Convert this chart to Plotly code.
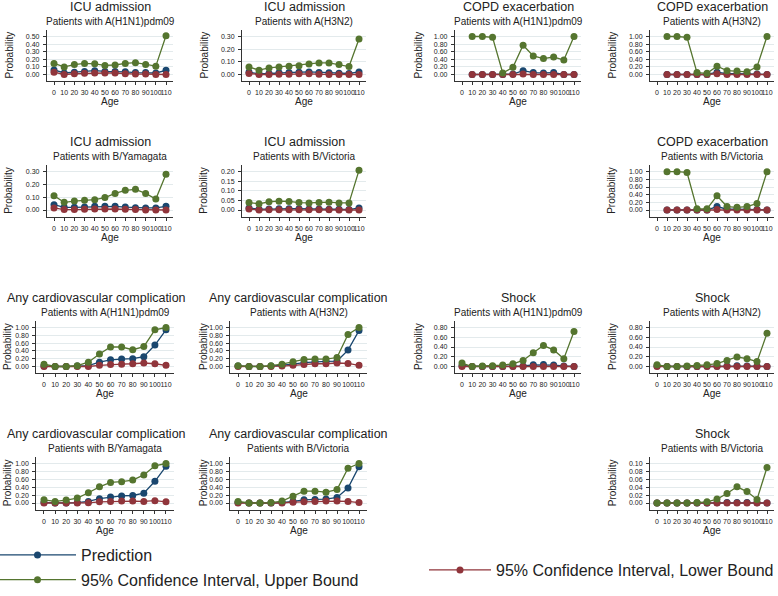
import plotly.graph_objects as go

W, H = 778, 596

ages = [0, 10, 20, 30, 40, 50, 60, 70, 80, 90, 100, 110]
age_labels = [str(a) for a in ages]

# ---- data ----
icu_h1n1_pred = [0.06, 0.02, 0.03, 0.04, 0.05, 0.04, 0.04, 0.035, 0.025, 0.025, 0.02, 0.055]
icu_h1n1_upper = [0.146, 0.10, 0.13, 0.146, 0.14, 0.12, 0.125, 0.146, 0.155, 0.13, 0.11, 0.51]
icu_h1n1_lower = [0.03, 0.0, 0.01, 0.015, 0.02, 0.02, 0.02, 0.01, 0.005, 0.005, 0.0, 0.0]

icu_h3n2_pred = [0.018, 0.005, 0.008, 0.013, 0.016, 0.018, 0.02, 0.016, 0.013, 0.01, 0.008, 0.02]
icu_h3n2_upper = [0.06, 0.034, 0.052, 0.06, 0.065, 0.07, 0.083, 0.091, 0.091, 0.078, 0.063, 0.28]
icu_h3n2_lower = [0.008, 0.0, 0.0, 0.002, 0.002, 0.005, 0.005, 0.002, 0.0, 0.0, 0.0, 0.0]

copd_h1n1_pred = [None, 0.0, 0.0, 0.0, 0.0, 0.01, 0.10, 0.05, 0.04, 0.05, 0.0, 0.0]
copd_h1n1_upper = [None, 1.0, 1.0, 0.98, 0.04, 0.19, 0.77, 0.49, 0.42, 0.46, 0.38, 1.0]
copd_h1n1_lower = [None, 0.0, 0.0, 0.0, 0.0, 0.0, 0.01, 0.0, 0.0, 0.0, 0.0, 0.0]

copd_h3n2_pred = [None, 0.0, 0.0, 0.0, 0.0, 0.0, 0.06, 0.02, 0.02, 0.02, 0.01, 0.0]
copd_h3n2_upper = [None, 1.0, 1.0, 0.98, 0.05, 0.03, 0.22, 0.10, 0.09, 0.07, 0.20, 1.0]
copd_h3n2_lower = [None, 0.0, 0.0, 0.0, 0.0, 0.0, 0.02, 0.0, 0.0, 0.0, 0.0, 0.0]

icu_byam_pred = [0.042, 0.021, 0.021, 0.023, 0.029, 0.029, 0.029, 0.023, 0.018, 0.016, 0.016, 0.029]
icu_byam_upper = [0.112, 0.06, 0.07, 0.076, 0.081, 0.097, 0.13, 0.154, 0.162, 0.13, 0.086, 0.28]
icu_byam_lower = [0.016, 0.003, 0.003, 0.005, 0.008, 0.008, 0.008, 0.005, 0.003, 0.0, 0.0, 0.0]

icu_bvic_pred = [0.011, 0.004, 0.005, 0.007, 0.007, 0.007, 0.005, 0.005, 0.004, 0.004, 0.002, 0.011]
icu_bvic_upper = [0.039, 0.032, 0.043, 0.046, 0.045, 0.039, 0.037, 0.039, 0.041, 0.037, 0.037, 0.207]
icu_bvic_lower = [0.005, 0.0, 0.001, 0.001, 0.001, 0.001, 0.001, 0.001, 0.001, 0.0, 0.0, 0.0]

copd_bvic_pred = [None, 0.0, 0.0, 0.0, 0.0, 0.0, 0.09, 0.02, 0.02, 0.02, 0.01, 0.0]
copd_bvic_upper = [None, 1.0, 1.0, 0.98, 0.03, 0.03, 0.37, 0.09, 0.07, 0.09, 0.17, 1.0]
copd_bvic_lower = [None, 0.0, 0.0, 0.0, 0.0, 0.0, 0.01, 0.0, 0.0, 0.0, 0.0, 0.0]

cardio_h1n1_pred = [0.01, 0.0, 0.0, 0.01, 0.02, 0.11, 0.17, 0.19, 0.20, 0.25, 0.55, 0.94]
cardio_h1n1_upper = [0.06, 0.0, 0.0, 0.02, 0.11, 0.32, 0.50, 0.50, 0.43, 0.51, 0.94, 1.0]
cardio_h1n1_lower = [0.0, 0.0, 0.0, 0.0, 0.0, 0.03, 0.05, 0.06, 0.07, 0.09, 0.07, 0.03]

cardio_h3n2_pred = [0.01, 0.0, 0.0, 0.01, 0.03, 0.06, 0.10, 0.12, 0.13, 0.14, 0.42, 0.92]
cardio_h3n2_upper = [0.02, 0.0, 0.0, 0.02, 0.06, 0.12, 0.18, 0.19, 0.19, 0.23, 0.82, 1.0]
cardio_h3n2_lower = [0.0, 0.0, 0.0, 0.0, 0.01, 0.03, 0.05, 0.07, 0.07, 0.09, 0.08, 0.03]

shock_h1n1_pred = [0.015, 0.0, 0.0, 0.0, 0.002, 0.005, 0.01, 0.035, 0.04, 0.03, 0.01, 0.0]
shock_h1n1_upper = [0.07, 0.0, 0.01, 0.015, 0.03, 0.055, 0.125, 0.28, 0.43, 0.34, 0.16, 0.72]
shock_h1n1_lower = [0.0, 0.0, 0.0, 0.0, 0.0, 0.0, 0.0, 0.0, 0.0, 0.0, 0.0, 0.0]

shock_h3n2_pred = [0.01, 0.0, 0.0, 0.0, 0.002, 0.005, 0.005, 0.01, 0.015, 0.01, 0.005, 0.0]
shock_h3n2_upper = [0.035, 0.0, 0.0, 0.01, 0.02, 0.035, 0.06, 0.125, 0.195, 0.16, 0.10, 0.68]
shock_h3n2_lower = [0.0, 0.0, 0.0, 0.0, 0.0, 0.0, 0.0, 0.0, 0.0, 0.0, 0.0, 0.0]

cardio_byam_pred = [0.01, 0.0, 0.0, 0.01, 0.04, 0.11, 0.15, 0.18, 0.19, 0.25, 0.55, 0.93]
cardio_byam_upper = [0.08, 0.04, 0.075, 0.125, 0.26, 0.41, 0.52, 0.54, 0.58, 0.71, 0.94, 1.0]
cardio_byam_lower = [0.0, 0.0, 0.0, 0.0, 0.005, 0.03, 0.04, 0.05, 0.05, 0.04, 0.06, 0.03]

cardio_bvic_pred = [0.01, 0.0, 0.0, 0.0, 0.01, 0.04, 0.08, 0.09, 0.10, 0.14, 0.38, 0.92]
cardio_bvic_upper = [0.04, 0.0, 0.0, 0.01, 0.05, 0.17, 0.30, 0.30, 0.275, 0.34, 0.88, 1.0]
cardio_bvic_lower = [0.0, 0.0, 0.0, 0.0, 0.0, 0.02, 0.03, 0.04, 0.05, 0.05, 0.04, 0.01]

shock_bvic_pred = [0.0, 0.0, 0.0, 0.0, 0.0, 0.0, 0.0005, 0.001, 0.001, 0.001, 0.0005, 0.0]
shock_bvic_upper = [0.0, 0.0, 0.0, 0.0, 0.001, 0.003, 0.01, 0.024, 0.041, 0.029, 0.009, 0.09]
shock_bvic_lower = [0.0, 0.0, 0.0, 0.0, 0.0, 0.0, 0.0, 0.0, 0.0, 0.0, 0.0, 0.0]

# y tick sets (max, step)
ticks_05 = (0.5, 0.1)
ticks_03 = (0.3, 0.1)
ticks_02 = (0.2, 0.05)
ticks_10 = (1.0, 0.2)
ticks_08 = (0.8, 0.2)
ticks_01 = (0.1, 0.02)

series_names = ["Prediction", "95% Confidence Interval, Lower Bound", "95% Confidence Interval, Upper Bound"]
series_colors = ["#1a476f", "#90353b", "#55752f"]

# panels: title, subtitle, (pred, lower, upper), ticks, row, col
panels = [
    ("ICU admission", "Patients with A(H1N1)pdm09", (icu_h1n1_pred, icu_h1n1_lower, icu_h1n1_upper), ticks_05, 1, 1),
    ("ICU admission", "Patients with A(H3N2)", (icu_h3n2_pred, icu_h3n2_lower, icu_h3n2_upper), ticks_03, 1, 2),
    ("COPD exacerbation", "Patients with A(H1N1)pdm09", (copd_h1n1_pred, copd_h1n1_lower, copd_h1n1_upper), ticks_10, 1, 3),
    ("COPD exacerbation", "Patients with A(H3N2)", (copd_h3n2_pred, copd_h3n2_lower, copd_h3n2_upper), ticks_10, 1, 4),
    ("ICU admission", "Patients with B/Yamagata", (icu_byam_pred, icu_byam_lower, icu_byam_upper), ticks_03, 2, 1),
    ("ICU admission", "Patients with B/Victoria", (icu_bvic_pred, icu_bvic_lower, icu_bvic_upper), ticks_02, 2, 2),
    ("COPD exacerbation", "Patients with B/Victoria", (copd_bvic_pred, copd_bvic_lower, copd_bvic_upper), ticks_10, 2, 4),
    ("Any cardiovascular complication", "Patients with A(H1N1)pdm09", (cardio_h1n1_pred, cardio_h1n1_lower, cardio_h1n1_upper), ticks_10, 3, 1),
    ("Any cardiovascular complication", "Patients with A(H3N2)", (cardio_h3n2_pred, cardio_h3n2_lower, cardio_h3n2_upper), ticks_10, 3, 2),
    ("Shock", "Patients with A(H1N1)pdm09", (shock_h1n1_pred, shock_h1n1_lower, shock_h1n1_upper), ticks_08, 3, 3),
    ("Shock", "Patients with A(H3N2)", (shock_h3n2_pred, shock_h3n2_lower, shock_h3n2_upper), ticks_08, 3, 4),
    ("Any cardiovascular complication", "Patients with B/Yamagata", (cardio_byam_pred, cardio_byam_lower, cardio_byam_upper), ticks_10, 4, 1),
    ("Any cardiovascular complication", "Patients with B/Victoria", (cardio_bvic_pred, cardio_bvic_lower, cardio_bvic_upper), ticks_10, 4, 2),
    ("Shock", "Patients with B/Victoria", (shock_bvic_pred, shock_bvic_lower, shock_bvic_upper), ticks_01, 4, 4),
]

# ---- layout geometry (pixels) ----
row_geom = {1: (36.5, 74.5), 2: (171.7, 210.0), 3: (327.5, 366.5), 4: (463.5, 503.0)}  # (top tick, zero)
col_geom_top = {1: (54, 166, 9), 2: (249, 359, 204), 3: (462, 574, 418), 4: (657, 767, 612)}
col_geom_bot = {1: (44, 166, 7), 2: (238, 359, 203), 3: (462, 574, 418), 4: (657, 767, 612)}
title_shift = {(3, 1): 96, (4, 1): 96}
PAD = 6.5
XMIN, XMAX = -7, 117

FONT = "Arial, Liberation Sans, sans-serif"
TXT = "#222222"

fig = go.Figure()
annotations = []
layout_axes = {}

for i, (title, sub, vals, (tmax, tstep), r, c) in enumerate(panels):
    n = i + 1
    xa = "x" if n == 1 else f"x{n}"
    ya = "y" if n == 1 else f"y{n}"
    px0, px110, probx = (col_geom_top if r <= 2 else col_geom_bot)[c]
    k = (px110 - px0) / 110.0
    left = px0 + XMIN * k
    right = px110 + (XMAX - 110) * k
    toptick, zero = row_geom[r]
    span = zero - toptick
    pad_v = PAD / span * tmax
    ybot_px = zero + PAD
    ytop_px = toptick - PAD

    nt = int(round(tmax / tstep))
    tv = [round(j * tstep, 4) for j in range(nt + 1)]
    tt = [f"{v:.2f}" for v in tv]

    layout_axes["xaxis" if n == 1 else f"xaxis{n}"] = dict(
        domain=[left / W, right / W], range=[XMIN, XMAX], anchor=ya,
        tickvals=ages, ticktext=age_labels, tickangle=0,
        tickfont=dict(size=7, color=TXT, family=FONT),
        showline=True, linecolor="#333333", linewidth=1, mirror=False,
        ticks="outside", ticklen=3, tickwidth=1, tickcolor="#333333",
        showgrid=False, zeroline=False, fixedrange=True, ticklabelstandoff=2,
    )
    layout_axes["yaxis" if n == 1 else f"yaxis{n}"] = dict(
        domain=[1 - ybot_px / H, 1 - ytop_px / H], range=[-pad_v, tmax + pad_v], anchor=xa,
        tickvals=tv, ticktext=tt,
        tickfont=dict(size=7, color=TXT, family=FONT),
        showline=True, linecolor="#333333", linewidth=1,
        ticks="outside", ticklen=3, tickwidth=1, tickcolor="#333333",
        showgrid=True, gridcolor="#e3eaec", gridwidth=0.7,
        zeroline=False, fixedrange=True, ticklabelstandoff=2,
    )

    for s, (name, col, ys) in enumerate(zip(series_names, series_colors, vals)):
        fig.add_trace(go.Scatter(
            x=ages, y=ys, xaxis=xa, yaxis=ya, mode="lines+markers",
            name=name, legendgroup=name, showlegend=(n == 1),
            legend="legend2" if s == 1 else "legend",
            line=dict(color=col, width=1.3),
            marker=dict(color=col, size=7),
            connectgaps=False, hoverinfo="skip",
        ))

    cx = (px0 + px110) / 2
    tcx = title_shift.get((r, c), cx)
    annotations += [
        dict(text=title, x=tcx / W, y=1 - (toptick - 29.5) / H, xref="paper", yref="paper",
             showarrow=False, xanchor="center", yanchor="middle",
             font=dict(size=12.5, color=TXT, family=FONT)),
        dict(text=sub, x=cx / W, y=1 - (toptick - 15) / H, xref="paper", yref="paper",
             showarrow=False, xanchor="center", yanchor="middle",
             font=dict(size=10, color=TXT, family=FONT)),
        dict(text="Probability", x=probx / W, y=1 - ((toptick + zero) / 2) / H, xref="paper", yref="paper",
             showarrow=False, xanchor="center", yanchor="middle", textangle=-90,
             font=dict(size=10, color=TXT, family=FONT)),
        dict(text="Age", x=cx / W, y=1 - (zero + 27) / H, xref="paper", yref="paper",
             showarrow=False, xanchor="center", yanchor="middle",
             font=dict(size=10, color=TXT, family=FONT)),
    ]

fig.update_layout(
    width=W, height=H, autosize=False,
    margin=dict(l=0, r=0, t=0, b=0, pad=0, autoexpand=False),
    paper_bgcolor="white", plot_bgcolor="white",
    font=dict(family=FONT, color=TXT),
    annotations=annotations,
    legend=dict(x=-6 / W, y=1 - 538 / H, xanchor="left", yanchor="top",
                orientation="v", itemwidth=77, tracegroupgap=1,
                font=dict(size=16, color=TXT, family=FONT), bgcolor="rgba(0,0,0,0)"),
    legend2=dict(x=424 / W, y=1 - 570 / H, xanchor="left", yanchor="middle",
                 orientation="v", itemwidth=62,
                 font=dict(size=16, color=TXT, family=FONT), bgcolor="rgba(0,0,0,0)"),
    showlegend=True,
    **layout_axes,
)

fig.write_html("out.html", config={"displayModeBar": False},
               post_script="document.body.style.margin='0px';document.body.style.overflow='hidden';")
